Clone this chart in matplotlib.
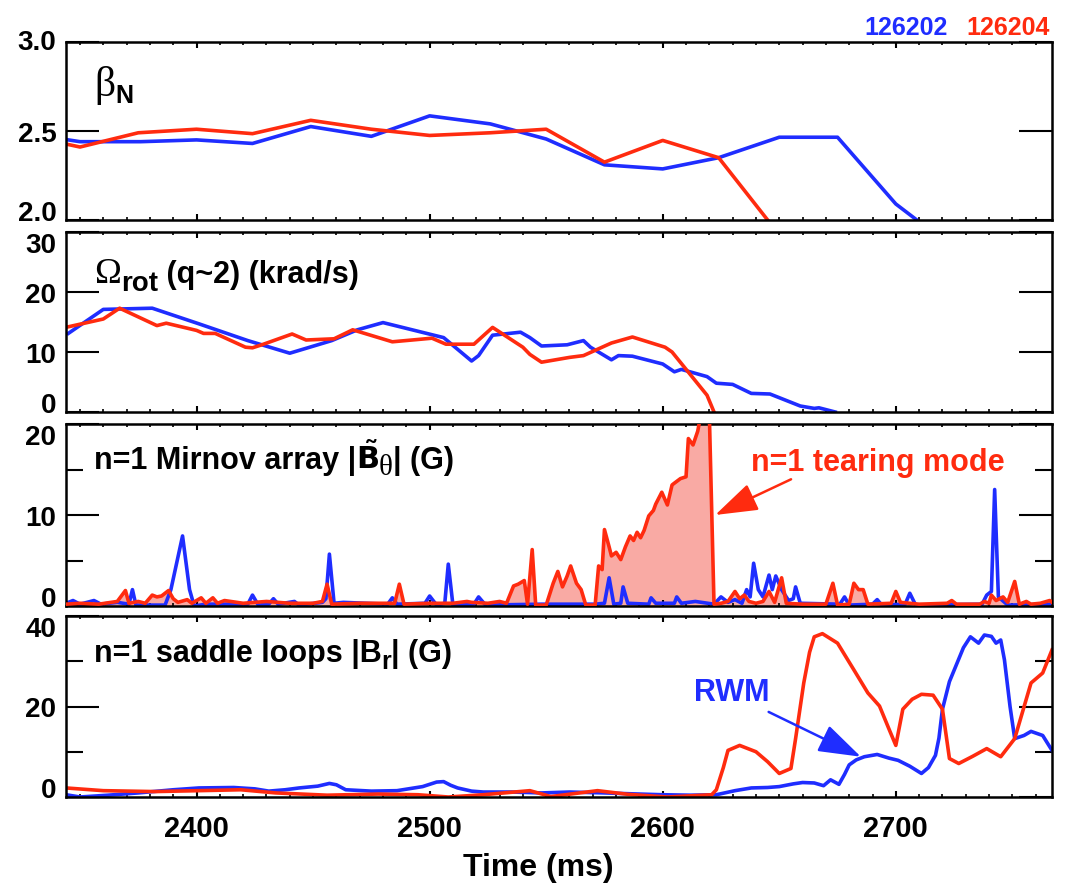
import matplotlib
matplotlib.use('Agg')
import matplotlib.pyplot as plt
import matplotlib.transforms as mtransforms
from matplotlib.ticker import MultipleLocator

# ---- data ----
# panel 1: beta_N
t_beta_b = [2345, 2350, 2376, 2400, 2424, 2449, 2475, 2500, 2526, 2550, 2575, 2600, 2624, 2650, 2675, 2700, 2709]
beta_b = [2.45, 2.44, 2.44, 2.45, 2.43, 2.525, 2.47, 2.585, 2.54, 2.455, 2.31, 2.287, 2.35, 2.465, 2.465, 2.09, 2.0]
t_beta_r = [2345, 2350, 2375, 2400, 2424, 2449, 2475, 2500, 2526, 2550, 2575, 2600, 2624, 2645]
beta_r = [2.424, 2.41, 2.49, 2.51, 2.485, 2.56, 2.51, 2.475, 2.49, 2.51, 2.325, 2.447, 2.35, 2.0]

# panel 2: rotation at q~2
t_rot_b = [2345, 2360, 2381, 2401, 2422, 2440, 2458, 2469, 2480, 2506, 2518, 2521, 2527, 2539, 2543, 2548, 2559,
           2566, 2569, 2578, 2581, 2587, 2600, 2605, 2608, 2619, 2623, 2630, 2638, 2646, 2659, 2665, 2667, 2674]
rot_b = [13.1, 17.1, 17.3, 14.7, 11.9, 9.8, 11.9, 13.7, 14.9, 12.4, 8.5, 9.4, 12.8, 13.3, 12.4, 11.0, 11.2,
         11.9, 10.8, 8.7, 9.4, 9.3, 8.0, 6.7, 7.1, 5.9, 4.8, 4.6, 3.1, 3.0, 1.0, 0.6, 0.7, 0.0]
t_rot_r = [2345, 2360, 2367, 2383, 2387, 2400, 2403, 2408, 2421, 2424, 2428, 2441, 2447, 2459, 2467, 2484,
           2501, 2507, 2519, 2527, 2540, 2543, 2548, 2560, 2566, 2578, 2587, 2601, 2604, 2619, 2622]
rot_r = [14.2, 15.5, 17.3, 14.4, 14.8, 13.6, 13.1, 13.1, 10.8, 10.7, 11.2, 13.0, 12.0, 12.2, 13.7, 11.7,
         12.3, 11.3, 11.3, 14.1, 10.8, 9.6, 8.3, 9.1, 9.4, 11.5, 12.5, 10.8, 10.0, 2.8, 0.0]

# panel 3: n=1 Mirnov amplitude
t_mir_b = [2344, 2347, 2350, 2356, 2359, 2366, 2371, 2372.5, 2374, 2386.5, 2389, 2394, 2397, 2399, 2404, 2422,
           2424, 2426.5, 2431, 2433, 2435, 2442, 2444, 2454, 2455.5, 2457, 2459, 2463, 2482, 2484, 2486, 2498,
           2500, 2503, 2506.5, 2508, 2510, 2519, 2521, 2524, 2548, 2571, 2575, 2577, 2579, 2582, 2583, 2585,
           2594, 2595, 2597, 2605, 2606, 2608, 2614, 2622, 2625, 2628, 2631, 2634, 2636, 2637.5, 2639, 2641,
           2643, 2645.6, 2647, 2648.5, 2651, 2654, 2656, 2657, 2659, 2676, 2678, 2680, 2690, 2692, 2694, 2704,
           2706, 2708.5, 2737, 2739, 2741, 2742.4, 2744, 2748, 2767]
mir_b = [0.3, 0.6, 0.2, 0.6, 0.2, 0.4, 0.2, 1.8, 0.1, 0.1, 1.8, 7.7, 1.8, 0.0, 0.2, 0.2,
         1.2, 0.1, 0.2, 0.8, 0.2, 0.5, 0.1, 0.4, 0.8, 5.7, 0.3, 0.4, 0.2, 0.9, 0.2, 0.3,
         1.1, 0.1, 0.3, 4.6, 0.1, 0.2, 1.0, 0.1, 0.2, 0.2, 0.3, 3.1, 0.2, 0.3, 2.1, 0.3,
         0.2, 0.9, 0.3, 0.3, 1.0, 0.3, 0.5, 0.2, 1.0, 0.4, 0.7, 0.3, 1.8, 1.0, 4.7, 1.8,
         1.0, 3.4, 1.8, 3.3, 1.8, 0.6, 0.8, 2.1, 0.3, 0.2, 1.0, 0.1, 0.2, 0.7, 0.1, 0.2,
         1.4, 0.1, 0.2, 1.2, 1.6, 12.8, 1.0, 0.1, 0.2]
t_mir_r = [2344, 2350, 2358, 2366, 2369.5, 2371, 2375, 2378, 2381, 2383, 2385, 2388, 2390, 2392, 2396, 2398,
           2402, 2404, 2407, 2409, 2412, 2420, 2430, 2440, 2450, 2454, 2456, 2458, 2470, 2485, 2487, 2489,
           2500, 2510, 2516, 2518, 2525, 2530, 2533, 2536, 2538, 2540.6, 2542, 2544, 2545.5, 2550, 2553, 2555,
           2557, 2559, 2560.5, 2563, 2565, 2567, 2571, 2572.5, 2574, 2575, 2577, 2578, 2580, 2582, 2584, 2586,
           2587.5, 2589, 2590.5, 2592, 2594, 2596, 2597, 2599.6, 2602, 2604, 2605, 2607.6, 2610, 2611, 2613, 2615,
           2616, 2620, 2622, 2625, 2628, 2631, 2633, 2635, 2637, 2640, 2643, 2645.6, 2648, 2651, 2653, 2660,
           2670, 2673, 2675, 2680, 2682, 2684, 2686, 2688, 2698, 2700, 2702, 2710, 2722, 2724, 2726, 2736,
           2738, 2740, 2741, 2743, 2746, 2748, 2751, 2753, 2756, 2758, 2762, 2766, 2767]
mir_r = [0.2, 0.3, 0.2, 0.5, 1.7, 0.3, 0.5, 0.3, 1.2, 1.0, 1.1, 1.7, 0.8, 0.4, 0.7, 0.3,
         0.9, 0.3, 0.9, 0.3, 0.6, 0.3, 0.5, 0.3, 0.3, 0.5, 2.4, 0.2, 0.3, 0.3, 2.4, 0.2,
         0.3, 0.3, 0.5, 0.4, 0.3, 0.5, 0.3, 2.2, 2.4, 2.8, 0.2, 6.2, 0.1, 0.1, 2.5, 3.8,
         2.1, 3.3, 4.4, 2.5, 1.8, 0.1, 0.1, 4.4, 4.0, 8.4, 6.5, 5.5, 5.9, 5.1, 6.5, 7.7,
         7.2, 8.1, 7.5, 8.3, 9.9, 10.5, 11.2, 12.5, 11.1, 13.3, 13.5, 14.0, 14.2, 18.4, 17.7, 19.2,
         20.5, 21.0, 0.2, 0.3, 0.5, 1.6, 0.8, 1.2, 0.5, 0.3, 0.5, 1.6, 0.4, 3.1, 0.3, 0.2,
         0.2, 2.5, 0.1, 0.2, 2.5, 1.8, 1.8, 0.2, 0.3, 1.6, 0.4, 0.2, 0.3, 0.6, 0.2, 0.2,
         0.5, 0.3, 1.2, 0.6, 1.0, 0.4, 2.7, 0.2, 0.5, 0.2, 0.3, 0.6, 0.4]

# panel 4: n=1 saddle loop amplitude
t_sad_b = [2344, 2350, 2362, 2375, 2390, 2401, 2416, 2425, 2431, 2438, 2444, 2452, 2457, 2460, 2464, 2475,
           2486, 2497, 2503, 2506, 2509, 2512, 2518, 2523, 2535, 2548, 2560, 2575, 2587, 2600, 2612, 2623,
           2631, 2638, 2645, 2650, 2656, 2660, 2665, 2669, 2672, 2675.6, 2678, 2680, 2683, 2686.5, 2692, 2697,
           2701, 2706, 2711, 2714, 2717, 2718.5, 2720, 2723, 2726.6, 2729, 2732, 2735.5, 2738, 2741, 2743, 2745,
           2746.6, 2749, 2751, 2755, 2758, 2763, 2767]
sad_b = [0.5, 0.0, 0.4, 0.9, 1.6, 2.0, 2.1, 1.8, 1.3, 1.6, 2.0, 2.4, 3.0, 2.7, 1.6, 1.3,
         1.4, 2.3, 3.3, 3.4, 2.6, 2.0, 1.3, 1.1, 1.1, 0.9, 1.1, 0.9, 0.7, 0.5, 0.4, 0.5,
         1.4, 2.0, 2.1, 2.3, 2.9, 3.2, 3.1, 2.5, 3.8, 2.8, 5.0, 7.1, 8.2, 8.9, 9.4, 8.6,
         8.1, 6.8, 5.2, 6.5, 9.2, 13.0, 19.4, 25.5, 30.0, 33.0, 35.4, 34.0, 35.8, 35.5, 34.0, 34.7,
         30.3, 20.0, 12.9, 13.6, 14.5, 13.6, 10.3]
t_sad_r = [2344, 2360, 2382, 2401, 2419, 2434, 2456, 2478, 2495, 2508, 2523, 2543, 2552, 2572, 2585, 2602,
           2621, 2623, 2626, 2628, 2633, 2640, 2645, 2650, 2655, 2657, 2660.5, 2663, 2665, 2668.5, 2675, 2682,
           2688, 2693, 2697, 2700, 2703, 2707, 2711, 2716, 2720, 2723, 2727, 2733, 2739, 2745, 2751, 2758,
           2763, 2767]
sad_r = [2.0, 1.4, 1.2, 1.4, 1.6, 0.9, 0.4, 0.65, 0.5, 0.0, 0.5, 1.4, 0.1, 1.4, 0.6, 0.0,
         0.5, 1.6, 6.5, 10.3, 11.4, 10.0, 7.8, 5.2, 6.3, 12.9, 25.2, 32.0, 35.4, 36.1, 34.0, 28.1,
         23.0, 20.1, 15.1, 11.4, 19.4, 21.6, 22.7, 22.5, 19.4, 8.5, 7.4, 9.0, 10.7, 8.9, 12.9, 25.2,
         27.4, 32.5]

# axis ticks / labels
yticks = [[2.0, 2.5, 3.0], [0, 10, 20, 30], [0, 10, 20], [0, 20, 40]]
ytick_labels = [['2.0', '2.5', '3.0'], ['0', '10', '20', '30'], ['0', '10', '20'], ['0', '20', '40']]
yminor = [[], [], [5, 15], [10, 30]]
ylims = [(2.0, 3.0), (0, 30), (0, 20), (0, 40)]
xticks = [2400, 2500, 2600, 2700]
shots = ['126202', '126204']

BLUE = '#1f2dff'
RED = '#ff2b0f'
PINK = '#f9aaa4'

plt.rcParams['font.family'] = ['Liberation Sans', 'DejaVu Sans']
plt.rcParams['font.weight'] = 'bold'

W, H = 1065, 887
fig = plt.figure(figsize=(W / 100, H / 100), dpi=100)
renderer = fig.canvas.get_renderer()

x0, x1 = 66, 1052
spans = [(43, 221), (233, 413), (425, 607), (617, 798)]
top_va = ['center', 'top', 'top', 'top']
axes = []
for top, bot in spans:
    ax = fig.add_axes([x0 / W, 1 - bot / H, (x1 - x0) / W, (bot - top) / H])
    axes.append(ax)

for i, ax in enumerate(axes):
    ax.set_xlim(2344, 2767)
    ax.set_ylim(*ylims[i])
    ax.set_xticks(xticks)
    ax.xaxis.set_minor_locator(MultipleLocator(10))
    ax.set_yticks(yticks[i])
    labs = ax.set_yticklabels(ytick_labels[i], fontsize=20, fontweight='bold')
    labs[0].set_va('baseline')
    labs[-1].set_va(top_va[i])
    ax.set_yticks(yminor[i], minor=True)
    ax.tick_params(axis='x', which='major', direction='in', top=True, bottom=True, length=4, width=1.5)
    ax.tick_params(axis='x', which='minor', direction='in', top=True, bottom=True, length=2.5, width=1.2)
    ax.tick_params(axis='y', which='major', direction='in', left=True, right=True, length=24, width=1.5, pad=7)
    ax.tick_params(axis='y', which='minor', direction='in', left=True, right=True, length=12, width=1.5)
    for s in ax.spines.values():
        s.set_linewidth(1.8)
    if i < 3:
        ax.tick_params(axis='x', labelbottom=False)
    else:
        ax.set_xticklabels([str(v) for v in xticks], fontsize=21, fontweight='bold')
        ax.tick_params(axis='x', which='major', pad=12)


def label(ax, x, y, parts):
    # write a label piece by piece so that the greek letters and subscripts
    # can take their own face, size and drop
    dx = 0
    for s, kw, dy in parts:
        tr = mtransforms.offset_copy(ax.transData, fig=fig, x=dx, y=dy, units='dots')
        t = ax.text(x, y, s, transform=tr, va='baseline', **kw)
        dx += t.get_window_extent(renderer).width


greek = dict(family='Liberation Serif', fontweight='normal', fontsize=30)
main = dict(fontsize=22, fontweight='bold')
sub = dict(fontsize=18, fontweight='bold')

lw = 2.6
a1, a2, a3, a4 = axes
a1.plot(t_beta_b, beta_b, color=BLUE, lw=lw)
a1.plot(t_beta_r, beta_r, color=RED, lw=lw)
label(a1, 2356, 2.70, [('\u03b2', greek, 0), ('N', sub, -7)])

a2.plot(t_rot_b, rot_b, color=BLUE, lw=lw)
a2.plot(t_rot_r, rot_r, color=RED, lw=lw)
label(a2, 2356, 21.6, [('\u03a9', dict(greek, fontsize=26), 0), ('rot', dict(sub, fontsize=20), -8),
                       (' (q~2) (krad/s)', main, 0)])

a3.fill_between(t_mir_r, mir_r, 0, color=PINK, lw=0, zorder=1)
a3.plot(t_mir_b, mir_b, color=BLUE, lw=lw, zorder=2)
a3.plot(t_mir_r, mir_r, color=RED, lw=lw, zorder=3)
label(a3, 2356, 15.2, [('n=1 Mirnov array |', main, 0), (r'$\tilde{\mathbf{B}}$', main, 0),
                       ('\u03b8', dict(greek, fontsize=21), -6), ('| (G)', main, 0)])
a3.annotate('n=1 tearing mode', xy=(2622.5, 10.0), xytext=(2638, 15.0),
            color=RED, fontsize=22, fontweight='bold', va='baseline', ha='left',
            arrowprops=dict(arrowstyle='-|>,head_length=1.2,head_width=0.4', color=RED, lw=1.8,
                            mutation_scale=22, shrinkA=0, shrinkB=0,
                            relpos=(0.18, 0.0)))

a4.plot(t_sad_b, sad_b, color=BLUE, lw=lw)
a4.plot(t_sad_r, sad_r, color=RED, lw=lw)
label(a4, 2356, 30.0, [('n=1 saddle loops |B', main, 0), ('r', sub, -7), ('| (G)', main, 0)])
a4.annotate('RWM', xy=(2685, 8.9), xytext=(2629.5, 21.5),
            color=BLUE, fontsize=22, fontweight='bold', ha='center', va='baseline',
            arrowprops=dict(arrowstyle='-|>,head_length=1.2,head_width=0.4', color=BLUE, lw=1.8,
                            mutation_scale=22, shrinkA=4, shrinkB=0,
                            relpos=(0.85, 0.0)))

fig.text(0.505, 1 - 868 / H, 'Time (ms)', ha='center', va='center', fontsize=23, fontweight='bold')

fig.text(1050 / W, 1 - 35 / H, shots[1], color=RED, fontsize=18, fontweight='bold',
         ha='right', va='baseline')
fig.text(948 / W, 1 - 35 / H, shots[0], color=BLUE, fontsize=18, fontweight='bold',
         ha='right', va='baseline')

fig.savefig('out.png', dpi=100)
